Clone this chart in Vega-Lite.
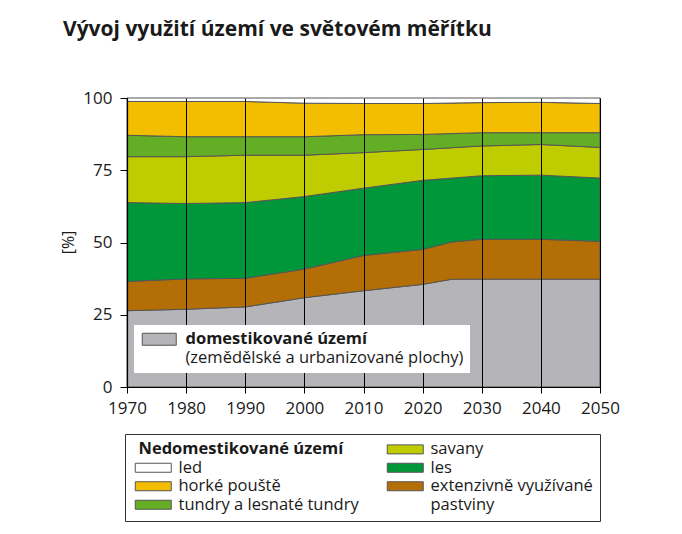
{
  "$schema": "https://vega.github.io/schema/vega-lite/v6.json",
  "width": 473,
  "height": 289,
  "autosize": {"type": "none"},
  "padding": {"left": 127, "top": 98, "right": 82, "bottom": 147},
  "background": "white",
  "config": {
    "font": "Open Sans",
    "view": {"stroke": "#3a3a3a", "strokeWidth": 1}
  },
  "title": {
    "text": "Vývoj využití území ve světovém měřítku",
    "anchor": "start",
    "frame": "group",
    "dx": -64,
    "offset": 32,
    "baseline": "alphabetic",
    "fontSize": 21,
    "fontWeight": "bold",
    "color": "#1a1a1a"
  },
  "datasets": {
    "domestikovane": [
      {"rok": 1970, "kategorie": "domestikované území", "od": 0, "do": 26.4},
      {"rok": 1980, "kategorie": "domestikované území", "od": 0, "do": 26.9},
      {"rok": 1990, "kategorie": "domestikované území", "od": 0, "do": 27.7},
      {"rok": 2000, "kategorie": "domestikované území", "od": 0, "do": 30.9},
      {"rok": 2010, "kategorie": "domestikované území", "od": 0, "do": 33.3},
      {"rok": 2020, "kategorie": "domestikované území", "od": 0, "do": 35.5},
      {"rok": 2025, "kategorie": "domestikované území", "od": 0, "do": 37.3},
      {"rok": 2030, "kategorie": "domestikované území", "od": 0, "do": 37.3},
      {"rok": 2040, "kategorie": "domestikované území", "od": 0, "do": 37.3},
      {"rok": 2050, "kategorie": "domestikované území", "od": 0, "do": 37.3}
    ],
    "nedomestikovane": [
      {"rok": 1970, "kategorie": "extenzivně využívané pastviny", "od": 26.4, "do": 36.5},
      {"rok": 1980, "kategorie": "extenzivně využívané pastviny", "od": 26.9, "do": 37.4},
      {"rok": 1990, "kategorie": "extenzivně využívané pastviny", "od": 27.7, "do": 37.6},
      {"rok": 2000, "kategorie": "extenzivně využívané pastviny", "od": 30.9, "do": 40.8},
      {"rok": 2010, "kategorie": "extenzivně využívané pastviny", "od": 33.3, "do": 45.5},
      {"rok": 2020, "kategorie": "extenzivně využívané pastviny", "od": 35.5, "do": 47.6},
      {"rok": 2025, "kategorie": "extenzivně využívané pastviny", "od": 37.3, "do": 50.2},
      {"rok": 2030, "kategorie": "extenzivně využívané pastviny", "od": 37.3, "do": 51.1},
      {"rok": 2040, "kategorie": "extenzivně využívané pastviny", "od": 37.3, "do": 51.1},
      {"rok": 2050, "kategorie": "extenzivně využívané pastviny", "od": 37.3, "do": 50.4},
      {"rok": 1970, "kategorie": "les", "od": 36.5, "do": 63.8},
      {"rok": 1980, "kategorie": "les", "od": 37.4, "do": 63.5},
      {"rok": 1990, "kategorie": "les", "od": 37.6, "do": 63.8},
      {"rok": 2000, "kategorie": "les", "od": 40.8, "do": 65.9},
      {"rok": 2010, "kategorie": "les", "od": 45.5, "do": 68.8},
      {"rok": 2020, "kategorie": "les", "od": 47.6, "do": 71.5},
      {"rok": 2025, "kategorie": "les", "od": 50.2, "do": 72.3},
      {"rok": 2030, "kategorie": "les", "od": 51.1, "do": 73.1},
      {"rok": 2040, "kategorie": "les", "od": 51.1, "do": 73.3},
      {"rok": 2050, "kategorie": "les", "od": 50.4, "do": 72.3},
      {"rok": 1970, "kategorie": "savany", "od": 63.8, "do": 79.7},
      {"rok": 1980, "kategorie": "savany", "od": 63.5, "do": 79.7},
      {"rok": 1990, "kategorie": "savany", "od": 63.8, "do": 80.2},
      {"rok": 2000, "kategorie": "savany", "od": 65.9, "do": 80.2},
      {"rok": 2010, "kategorie": "savany", "od": 68.8, "do": 81.1},
      {"rok": 2020, "kategorie": "savany", "od": 71.5, "do": 82.2},
      {"rok": 2030, "kategorie": "savany", "od": 73.1, "do": 83.4},
      {"rok": 2040, "kategorie": "savany", "od": 73.3, "do": 83.9},
      {"rok": 2050, "kategorie": "savany", "od": 72.3, "do": 82.9},
      {"rok": 1970, "kategorie": "tundry a lesnaté tundry", "od": 79.7, "do": 87.1},
      {"rok": 1980, "kategorie": "tundry a lesnaté tundry", "od": 79.7, "do": 86.6},
      {"rok": 1990, "kategorie": "tundry a lesnaté tundry", "od": 80.2, "do": 86.6},
      {"rok": 2000, "kategorie": "tundry a lesnaté tundry", "od": 80.2, "do": 86.6},
      {"rok": 2010, "kategorie": "tundry a lesnaté tundry", "od": 81.1, "do": 87.3},
      {"rok": 2020, "kategorie": "tundry a lesnaté tundry", "od": 82.2, "do": 87.4},
      {"rok": 2030, "kategorie": "tundry a lesnaté tundry", "od": 83.4, "do": 88.0},
      {"rok": 2040, "kategorie": "tundry a lesnaté tundry", "od": 83.9, "do": 88.0},
      {"rok": 2050, "kategorie": "tundry a lesnaté tundry", "od": 82.9, "do": 88.0},
      {"rok": 1970, "kategorie": "horké pouště", "od": 87.1, "do": 98.8},
      {"rok": 1980, "kategorie": "horké pouště", "od": 86.6, "do": 98.8},
      {"rok": 1990, "kategorie": "horké pouště", "od": 86.6, "do": 98.8},
      {"rok": 2000, "kategorie": "horké pouště", "od": 86.6, "do": 98.2},
      {"rok": 2010, "kategorie": "horké pouště", "od": 87.3, "do": 98.1},
      {"rok": 2020, "kategorie": "horké pouště", "od": 87.4, "do": 98.1},
      {"rok": 2030, "kategorie": "horké pouště", "od": 88.0, "do": 98.4},
      {"rok": 2040, "kategorie": "horké pouště", "od": 88.0, "do": 98.5},
      {"rok": 2050, "kategorie": "horké pouště", "od": 88.0, "do": 98.1},
      {"rok": 1970, "kategorie": "led", "od": 98.8, "do": 100},
      {"rok": 1980, "kategorie": "led", "od": 98.8, "do": 100},
      {"rok": 1990, "kategorie": "led", "od": 98.8, "do": 100},
      {"rok": 2000, "kategorie": "led", "od": 98.2, "do": 100},
      {"rok": 2010, "kategorie": "led", "od": 98.1, "do": 100},
      {"rok": 2020, "kategorie": "led", "od": 98.1, "do": 100},
      {"rok": 2030, "kategorie": "led", "od": 98.4, "do": 100},
      {"rok": 2040, "kategorie": "led", "od": 98.5, "do": 100},
      {"rok": 2050, "kategorie": "led", "od": 98.1, "do": 100}
    ]
  },
  "encoding": {
    "x": {
      "field": "rok",
      "type": "quantitative",
      "scale": {"domain": [1970, 2050], "nice": false, "zero": false},
      "axis": {
        "title": null,
        "values": [1970, 1980, 1990, 2000, 2010, 2020, 2030, 2040, 2050],
        "format": "d",
        "grid": true,
        "gridColor": "#000000",
        "gridOpacity": 1,
        "gridWidth": 1,
        "zindex": 1,
        "labelFontSize": 17,
        "labelColor": "#1a1a1a",
        "labelPadding": 7,
        "labelFlush": false,
        "tickColor": "#000000",
        "tickSize": 6,
        "domainColor": "#000000",
        "domainWidth": 1.2
      }
    },
    "y": {
      "field": "do",
      "type": "quantitative",
      "scale": {"domain": [0, 100], "nice": false},
      "axis": {
        "title": "[%]",
        "titleFontWeight": "normal",
        "titleFontSize": 16,
        "titleColor": "#1a1a1a",
        "titleX": -59,
        "titleY": 144,
        "titleAlign": "center",
        "titleBaseline": "middle",
        "values": [0, 25, 50, 75, 100],
        "grid": false,
        "zindex": 1,
        "labelFontSize": 17,
        "labelColor": "#1a1a1a",
        "labelPadding": 8,
        "tickColor": "#000000",
        "tickSize": 7,
        "domainColor": "#000000",
        "domainWidth": 1.2
      }
    },
    "y2": {"field": "od"}
  },
  "layer": [
    {
      "data": {"name": "domestikovane"},
      "mark": {"type": "area", "stroke": "#555555", "strokeWidth": 1},
      "encoding": {
        "color": {
          "field": "kategorie",
          "type": "nominal",
          "scale": {
            "domain": ["domestikované území", "(zemědělské a urbanizované plochy)"],
            "range": ["#b4b4b9", "transparent"]
          },
          "legend": {
            "title": null,
            "orient": "none",
            "legendX": 7,
            "legendY": 227,
            "zindex": 2,
            "fillColor": "white",
            "padding": 6,
            "rowPadding": 2,
            "symbolType": "M-1,-1H4.667V1H-1Z",
            "symbolSize": 144,
            "symbolStrokeColor": "#555555",
            "symbolStrokeWidth": 1,
            "labelFontSize": 16.5,
            "labelColor": "#1a1a1a",
            "labelOffset": 29,
            "labelLimit": 500,
            "encode": {
              "labels": {
                "update": {
                  "fontWeight": {"signal": "datum.index === 0 ? 'bold' : 'normal'"}
                }
              },
              "symbols": {
                "update": {
                  "opacity": {"signal": "datum.index === 0 ? 1 : 0"}
                }
              }
            }
          }
        }
      }
    },
    {
      "data": {"name": "nedomestikovane"},
      "mark": {"type": "area", "stroke": "#555555", "strokeWidth": 1},
      "encoding": {
        "color": {
          "field": "kategorie",
          "type": "nominal",
          "scale": {
            "domain": ["Nedomestikované území", "led", "horké pouště", "tundry a lesnaté tundry", "savany", "les", "extenzivně využívané pastviny", "pastviny"],
            "range": ["transparent", "#ffffff", "#f3be00", "#63ae24", "#bfcd00", "#00963a", "#b46e06", "transparent"]
          },
          "legend": {
            "title": null,
            "orient": "none",
            "legendX": -2,
            "legendY": 336,
            "zindex": 2,
            "columns": 2,
            "columnPadding": 25,
            "rowPadding": 1.5,
            "values": ["Nedomestikované území", "led", "horké pouště", "tundry a lesnaté tundry", "savany", "les", "extenzivně využívané pastviny", "pastviny"],
            "fillColor": "white",
            "strokeColor": "#333333",
            "padding": 7,
            "symbolType": "M-1,-0.9H6.2V0.9H-1Z",
            "symbolSize": 100,
            "symbolStrokeColor": "#555555",
            "symbolStrokeWidth": 1,
            "labelFontSize": 16.5,
            "labelColor": "#1a1a1a",
            "labelOffset": 30,
            "labelLimit": 500,
            "labelExpr": "datum.value === 'extenzivně využívané pastviny' ? 'extenzivně využívané' : datum.label",
            "encode": {
              "labels": {
                "update": {
                  "fontWeight": {"signal": "datum.value === 'Nedomestikované území' ? 'bold' : 'normal'"},
                  "dx": {"signal": "datum.value === 'Nedomestikované území' ? -40 : 0"}
                }
              },
              "symbols": {
                "update": {
                  "opacity": {"signal": "datum.value === 'Nedomestikované území' || datum.value === 'pastviny' ? 0 : 1"}
                }
              }
            }
          }
        }
      }
    }
  ],
  "resolve": {"scale": {"color": "independent"}, "legend": {"color": "independent"}}
}
